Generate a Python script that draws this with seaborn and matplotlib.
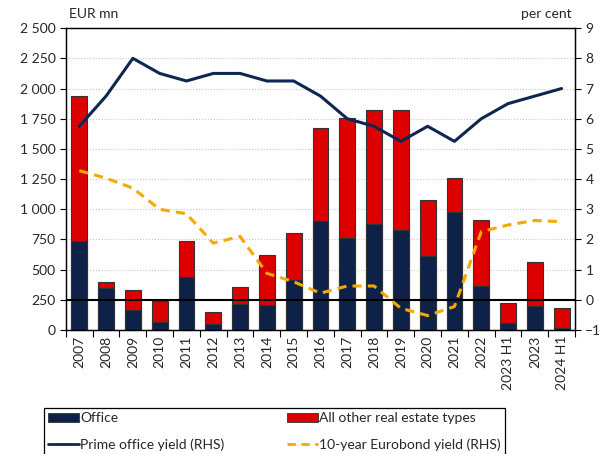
#!/usr/bin/env python

import matplotlib
matplotlib.use("Agg")
import matplotlib.pyplot as plt
import matplotlib.patches as mpatches
import matplotlib.lines as mlines
from matplotlib.ticker import FuncFormatter, FixedLocator
import numpy as np
import seaborn as sns

sns.set_style("white")
plt.rcParams["font.family"] = ["Lato", "DejaVu Sans"]

periods = ["2007", "2008", "2009", "2010", "2011", "2012", "2013", "2014", "2015",
           "2016", "2017", "2018", "2019", "2020", "2021", "2022", "2023 H1",
           "2023", "2024 H1"]

office = [740, 345, 163, 64, 436, 47, 212, 204, 414,
          902, 761, 877, 830, 615, 977, 362, 55, 201, 19]
total = [1935, 400, 332, 237, 737, 152, 358, 621, 806,
         1675, 1758, 1824, 1824, 1079, 1261, 911, 226, 560, 179]
prime_yield = [5.75, 6.75, 8.0, 7.5, 7.25, 7.5, 7.5, 7.25, 7.25,
               6.75, 6.0, 5.75, 5.25, 5.75, 5.25, 6.0, 6.5, 6.75, 7.0]
eurobond = [4.28, 4.03, 3.7, 3.0, 2.85, 1.88, 2.1, 0.88, 0.6,
            0.22, 0.46, 0.46, -0.28, -0.52, -0.22, 2.26, 2.48, 2.63, 2.59]

n = len(periods)

navy = "#0E2148"
red = "#DD0000"
line_navy = "#0F2650"
orange = "#F5A800"

fig = plt.figure(figsize=(5.99, 4.54), dpi=100)
ax = fig.add_axes([0.110, 0.273, 0.850, 0.665])

x = np.arange(n)
sns.barplot(x=x, y=total, color=red, width=0.59, edgecolor="#333333",
            linewidth=0.8, saturation=1, ax=ax, native_scale=True)
sns.barplot(x=x, y=office, color=navy, width=0.59, edgecolor="#333333",
            linewidth=0.8, saturation=1, ax=ax, native_scale=True)

ax.set_ylim(0, 2500)
ax.set_xlim(-0.5, n - 0.5)
ax.set_yticks(np.arange(0, 2501, 250))
ax.yaxis.set_major_formatter(FuncFormatter(lambda v, p: f"{int(v):,}".replace(",", " ")))
ax.grid(axis="y", color="#C8C8C8", linestyle=":", linewidth=0.8)
ax.set_axisbelow(True)
ax.axhline(250, color="black", linewidth=1.5, zorder=5)

ax.set_xticks(x)
ax.set_xticklabels(periods, rotation=90, fontsize=10)
ax.xaxis.set_minor_locator(FixedLocator(np.arange(-0.5, n, 1.0)))
ax.tick_params(axis="x", which="major", length=0, pad=4)
ax.tick_params(axis="x", which="minor", length=5, width=0.8, color="black", bottom=True)
ax.tick_params(axis="y", labelsize=10, length=4, width=0.8, color="black", left=True)
ax.set_xlabel("")
ax.set_ylabel("")
for s in ax.spines.values():
    s.set_color("black")
    s.set_linewidth(0.9)

ax2 = ax.twinx()
sns.lineplot(x=x, y=prime_yield, color=line_navy, linewidth=2.2, ax=ax2)
sns.lineplot(x=x, y=eurobond, color=orange, linewidth=2.2, ax=ax2,
             dashes=False, linestyle=(0, (3, 2)))
ax2.set_ylim(-1, 9)
ax2.set_yticks(np.arange(-1, 10, 1))
ax2.tick_params(axis="y", labelsize=10, length=4, width=0.8, color="black", right=True)
ax2.grid(False)
for s in ax2.spines.values():
    s.set_color("black")
    s.set_linewidth(0.9)

fig.text(0.115, 0.955, "EUR mn", fontsize=10, ha="left", va="bottom")
fig.text(0.955, 0.955, "per cent", fontsize=10, ha="right", va="bottom")

handles = [
    mpatches.Patch(facecolor=navy, edgecolor="#333333", linewidth=0.6, label="Office"),
    mlines.Line2D([], [], color=line_navy, linewidth=2, label="Prime office yield (RHS)"),
    mpatches.Patch(facecolor=red, edgecolor="#333333", linewidth=0.6, label="All other real estate types"),
    mlines.Line2D([], [], color=orange, linewidth=2, linestyle=(0, (3, 2)), label="10-year Eurobond yield (RHS)"),
]
leg = fig.legend(handles=handles, loc="upper left", ncol=2, mode="expand",
                 bbox_to_anchor=(0.062, 0.0, 0.793, 0.116), frameon=True,
                 fancybox=False, edgecolor="black", framealpha=1, fontsize=10,
                 handlelength=2.2, handletextpad=0.1, borderpad=0.3,
                 labelspacing=1.0)
leg.get_frame().set_linewidth(0.9)

plt.savefig("out.png", dpi=100)
plt.close("all")
